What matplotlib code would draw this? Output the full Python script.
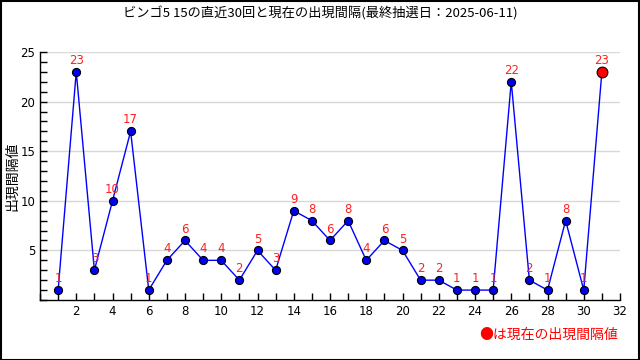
import matplotlib
matplotlib.use("Agg")
import matplotlib.pyplot as plt
from matplotlib.ticker import MultipleLocator
from matplotlib.patches import Rectangle

plt.rcParams['font.family'] = ['Noto Sans CJK JP', 'DejaVu Sans']

draws = list(range(1, 32))
intervals = [1, 23, 3, 10, 17, 1, 4, 6, 4, 4, 2, 5, 3, 9, 8, 6, 8, 4, 6, 5,
             2, 2, 1, 1, 1, 22, 2, 1, 8, 1, 23]
title = "ビンゴ5 15の直近30回と現在の出現間隔(最終抽選日：2025-06-11)"
ylabel = "出現間隔値"
note = "●は現在の出現間隔値"

fig = plt.figure(figsize=(6.4, 3.6), dpi=100)
ax = fig.add_axes([40/640, 1-300/360, 580/640, 248/360])

ax.plot(draws, intervals, color='#0000ff', lw=1, zorder=2)
ax.scatter(draws[:-1], intervals[:-1], s=34, color='#0000ee', edgecolors='black', linewidths=0.8, zorder=3)
ax.scatter(draws[-1:], intervals[-1:], s=60, color='#ff0000', edgecolors='black', linewidths=0.8, zorder=4)
for x, y in zip(draws, intervals):
    ax.annotate(str(y), (x, y), xytext=(0, 3.5), textcoords='offset points',
                ha='center', va='bottom', color='#ff2020', fontsize=8.5, family=['DejaVu Sans'])

ax.set_xlim(0, 32)
ax.set_ylim(0, 25)
ax.xaxis.set_minor_locator(MultipleLocator(1))
ax.yaxis.set_minor_locator(MultipleLocator(1))
ax.set_xticks(range(2, 33, 2))
ax.set_yticks([5, 10, 15, 20, 25])
ax.tick_params(axis='both', which='both', direction='in', length=5, labelsize=8.5, width=1)
for lab in ax.get_xticklabels() + ax.get_yticklabels():
    lab.set_family(['DejaVu Sans'])
ax.grid(axis='y', color='#d8d8d8', lw=1)
ax.set_axisbelow(True)
for s in ['top', 'right']:
    ax.spines[s].set_visible(False)
ax.spines['left'].set_linewidth(1)
ax.spines['bottom'].set_linewidth(1)

ax.set_ylabel(ylabel, fontsize=10)
ax.yaxis.set_label_coords(-21/580, 0.5)

fig.text(0.5, 1-13/360, title, ha='center', va='center', fontsize=9.5)
fig.text(618/640, 1-335/360, note, ha='right', va='center', fontsize=10, color='#ff0000')

fig.add_artist(Rectangle((0.5/640, 0.5/360), 1-1.5/640, 1-1.5/360, transform=fig.transFigure,
                         fill=False, edgecolor='black', lw=1.5))

fig.savefig('out.png', dpi=100)
